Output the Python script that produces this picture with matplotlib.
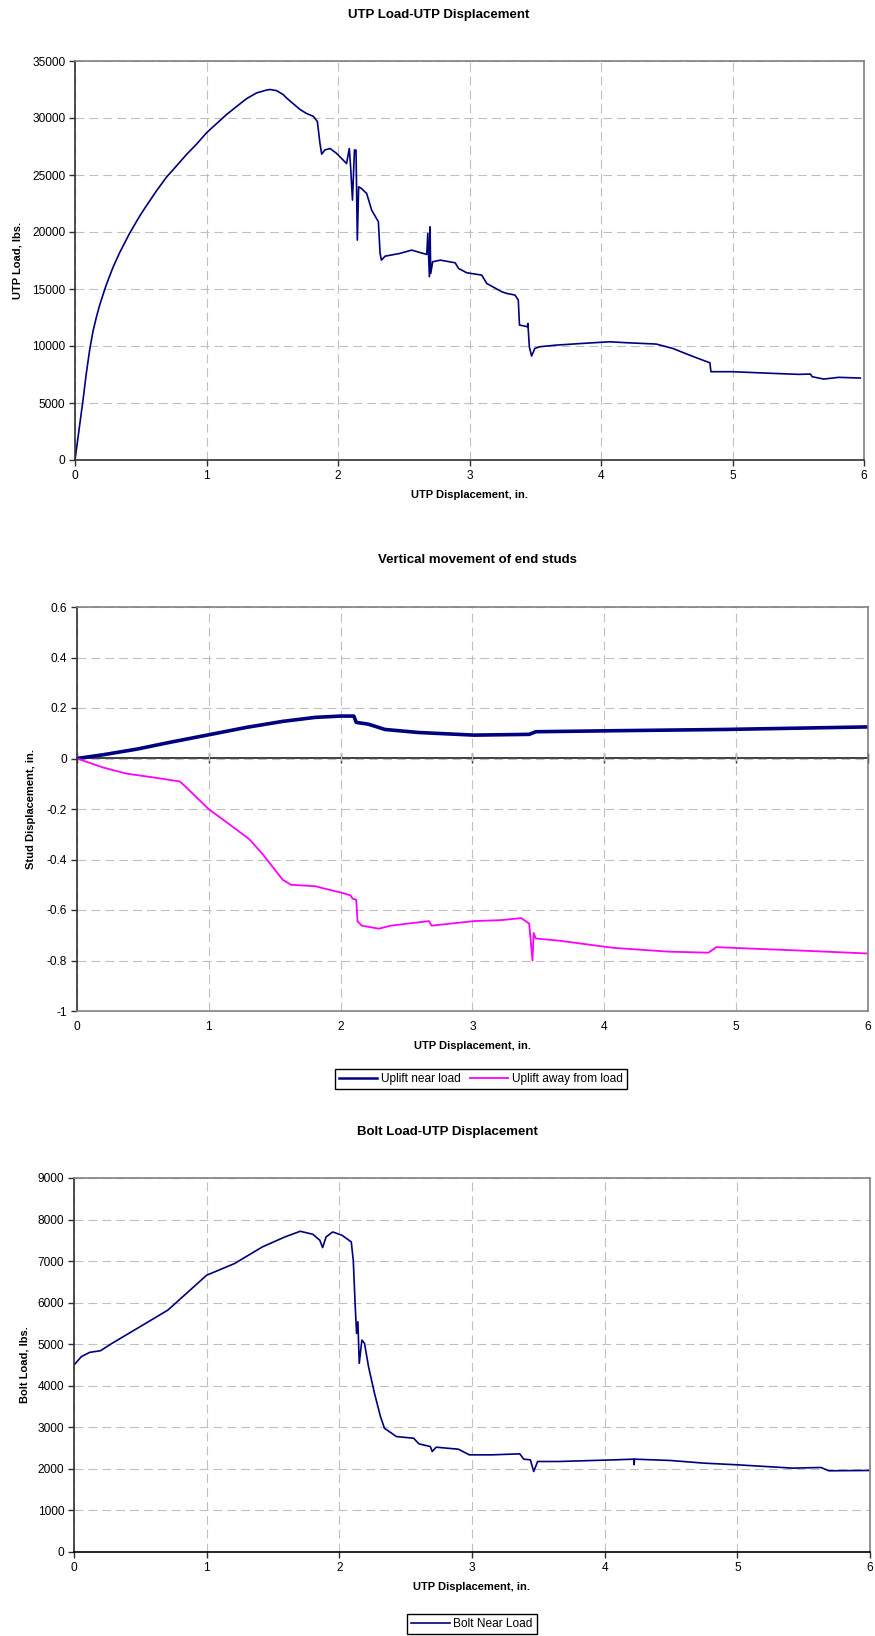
import matplotlib
matplotlib.use("Agg")
import matplotlib.pyplot as plt

plt.rcParams['font.family'] = ['Liberation Sans', 'DejaVu Sans']

## UTP load vs UTP displacement
utp_x = [0, 0.061, 0.086, 0.112, 0.137, 0.162, 0.188, 0.213, 0.239, 0.289, 0.340, 0.416, 0.492,
         0.543, 0.619, 0.695, 0.772, 0.848, 0.924, 1.0, 1.076, 1.152, 1.228, 1.305, 1.381, 1.457,
         1.482, 1.533, 1.584, 1.609, 1.66, 1.711, 1.76, 1.812, 1.843, 1.863, 1.876, 1.90, 1.94,
         1.99, 2.04, 2.065, 2.086, 2.096, 2.11, 2.125, 2.137, 2.147, 2.157, 2.18, 2.218, 2.256,
         2.307, 2.32, 2.33, 2.358, 2.47, 2.56, 2.675, 2.683, 2.695, 2.70, 2.705, 2.72, 2.778,
         2.891, 2.917, 2.98, 3.093, 3.131, 3.245, 3.283, 3.346, 3.371, 3.38, 3.44, 3.444, 3.455,
         3.472, 3.497, 3.535, 3.662, 3.864, 4.066, 4.19, 4.42, 4.545, 4.672, 4.785, 4.828, 4.836,
         5.0, 5.303, 5.505, 5.593, 5.606, 5.694, 5.808, 5.972]
utp_load = [0, 5260, 7600, 9700, 11300, 12500, 13600, 14500, 15400, 16900, 18200, 19900, 21400,
            22300, 23600, 24800, 25800, 26800, 27700, 28700, 29500, 30300, 31000, 31700, 32200, 32450,
            32500, 32400, 32050, 31750, 31250, 30750, 30400, 30150, 29700, 27761, 26826, 27200, 27323,
            26885, 26300, 26000, 27323, 25700, 22800, 27200, 27180, 19290, 23965, 23800, 23380, 21920,
            20900, 18120, 17530, 17880, 18120, 18410, 18030, 19870, 16070, 20450, 16360, 17390, 17530,
            17300, 16800, 16420, 16220, 15490, 14760, 14610, 14470, 14030, 11840, 11690, 11980, 9935,
            9120, 9790, 9935, 10080, 10230, 10370, 10290, 10170, 9790, 9205, 8710, 8530, 7745,
            7745, 7600, 7510, 7540, 7305, 7100, 7250, 7190]

## stud uplift
near_x = [0, 0.2, 0.453, 0.704, 1.0, 1.283, 1.56, 1.81, 2.0, 2.1, 2.118, 2.21, 2.336, 2.59, 3.01,
          3.43, 3.48, 4.07, 4.91, 5.99]
near_y = [0, 0.015, 0.037, 0.064, 0.094, 0.123, 0.147, 0.163, 0.168, 0.168, 0.143, 0.136, 0.115,
          0.103, 0.0926, 0.0956, 0.106, 0.11, 0.115, 0.125]
away_x = [0, 0.2, 0.377, 0.579, 0.78, 0.818, 1.0, 1.157, 1.308, 1.41, 1.56, 1.623, 1.81, 1.86,
          2.01, 2.075, 2.09, 2.118, 2.128, 2.16, 2.29, 2.38, 2.67, 2.69, 3.01, 3.22, 3.37, 3.43,
          3.455, 3.464, 3.48, 3.65, 4.07, 4.49, 4.79, 4.85, 5.12, 5.55, 5.99]
away_y = [0, -0.036, -0.06, -0.075, -0.091, -0.109, -0.201, -0.261, -0.32, -0.38, -0.48, -0.50,
          -0.506, -0.513, -0.532, -0.542, -0.555, -0.559, -0.645, -0.662, -0.674, -0.662, -0.644,
          -0.662, -0.644, -0.640, -0.632, -0.654, -0.80, -0.691, -0.713, -0.721, -0.75, -0.765,
          -0.769, -0.747, -0.753, -0.762, -0.772]

## bolt load
bolt_x = [0, 0.055, 0.118, 0.2, 0.286, 0.497, 0.707, 1.0, 1.21, 1.42, 1.59, 1.705, 1.80, 1.853,
          1.874, 1.90, 1.95, 2.02, 2.09, 2.105, 2.12, 2.13, 2.14, 2.15, 2.17, 2.19, 2.22, 2.265,
          2.31, 2.34, 2.43, 2.56, 2.60, 2.686, 2.70, 2.73, 2.897, 2.98, 3.15, 3.36, 3.39, 3.44,
          3.465, 3.495, 3.655, 4.076, 4.22, 4.222, 4.225, 4.497, 4.75, 5.0, 5.42, 5.63, 5.69, 5.99]
bolt_load = [4500, 4700, 4804, 4844, 5020, 5420, 5820, 6661, 6941, 7342, 7582, 7718, 7646, 7502,
             7326, 7582, 7702, 7622, 7462, 7020, 5900, 5260, 5540, 4540, 5100, 5020, 4460, 3819,
             3260, 2978, 2778, 2738, 2602, 2538, 2418, 2522, 2474, 2338, 2338, 2362, 2234, 2218,
             1938, 2178, 2178, 2218, 2234, 2100, 2234, 2202, 2138, 2098, 2018, 2034, 1954, 1962]

x_ticks = [0, 1, 2, 3, 4, 5, 6]
navy = '#000080'
W, H = 875, 1636


def box(l, t, r, b):
    return [l / W, 1 - b / H, (r - l) / W, (b - t) / H]


def style(ax, ylim, yticks, ylabel, label_x):
    ax.set_xlim(0, 6)
    ax.set_ylim(*ylim)
    ax.set_xticks(x_ticks)
    ax.set_yticks(yticks)
    ax.grid(True, color='#c0c0c0', linestyle=(0, (8, 4.5)), linewidth=0.8)
    ax.set_axisbelow(True)
    for s in ['top', 'right']:
        ax.spines[s].set_color('#808080')
        ax.spines[s].set_linewidth(1.2)
    for s in ['left', 'bottom']:
        ax.spines[s].set_color('#303030')
        ax.spines[s].set_linewidth(1.2)
    ax.tick_params(direction='out', length=4, width=1, labelsize=8.6, pad=3,
                   colors='#303030', labelcolor='black')
    ax.set_xlabel('UTP Displacement, in.', fontsize=8, fontweight='bold', labelpad=6)
    ax.set_ylabel(ylabel, fontsize=8, fontweight='bold')
    ax.yaxis.set_label_coords(label_x, 0.5)


fig = plt.figure(figsize=(W / 100, H / 100), dpi=100)

# chart 1
ax1 = fig.add_axes(box(75, 61, 864, 460))
ax1.plot(utp_x, utp_load, color=navy, linewidth=1.2)
style(ax1, (0, 35000), range(0, 35001, 5000), 'UTP Load, lbs.', (23 - 75) / 789)
fig.text(439 / W, 1 - 15 / H, 'UTP Load-UTP Displacement', ha='center', va='center',
         fontsize=9.5, fontweight='bold')

# chart 2
ax2 = fig.add_axes(box(77, 607, 868, 1011))
ax2.plot(near_x, near_y, color=navy, linewidth=2.6, label='Uplift near load')
ax2.plot(away_x, away_y, color='#ff00ff', linewidth=1.3, label='Uplift away from load')
style(ax2, (-1, 0.6), [-1, -0.8, -0.6, -0.4, -0.2, 0, 0.2, 0.4, 0.6], 'Stud Displacement, in.',
      (36 - 77) / 791)
ax2.set_yticklabels(['-1', '-0.8', '-0.6', '-0.4', '-0.2', '0', '0.2', '0.4', '0.6'])
ax2.spines['bottom'].set_color('#808080')
ax2.tick_params(axis='x', length=0, pad=7)
zero_axis = ax2.secondary_xaxis(0.625)
zero_axis.set_xticks(x_ticks)
zero_axis.tick_params(direction='inout', length=7, width=1, labelbottom=False, labeltop=False,
                      colors='#202020')
zero_axis.spines['top'].set_color('#202020')
zero_axis.spines['top'].set_linewidth(1.2)
zero_axis.spines['bottom'].set_color('#202020')
zero_axis.spines['bottom'].set_linewidth(1.2)
fig.text(477 / W, 1 - 560 / H, 'Vertical movement of end studs', ha='center', va='center',
         fontsize=9.5, fontweight='bold')
leg2 = ax2.legend(loc='center', bbox_to_anchor=(481 / W, 1 - 1079 / H),
                  bbox_transform=fig.transFigure, ncol=2, fontsize=8.6, frameon=True,
                  fancybox=False, edgecolor='black', framealpha=1, handlelength=3.2,
                  handletextpad=0.3, columnspacing=0.8, borderpad=0.35, borderaxespad=0)
leg2.get_lines()[0].set_linewidth(1.8)

# chart 3
ax3 = fig.add_axes(box(74, 1178, 870, 1552))
ax3.plot(bolt_x, bolt_load, color=navy, linewidth=1.2, label='Bolt Near Load')
style(ax3, (0, 9000), range(0, 9001, 1000), 'Bolt Load, lbs.', (29 - 74) / 796)
ax3.spines['bottom'].set_color('black')
fig.text(447 / W, 1 - 1132 / H, 'Bolt Load-UTP Displacement', ha='center', va='center',
         fontsize=9.5, fontweight='bold')
ax3.legend(loc='center', bbox_to_anchor=(472 / W, 1 - 1624 / H), bbox_transform=fig.transFigure,
           fontsize=8.6, frameon=True, fancybox=False, edgecolor='black', framealpha=1,
           handlelength=3.2, handletextpad=0.3, borderpad=0.35, borderaxespad=0)

fig.savefig('out.png', dpi=100)
